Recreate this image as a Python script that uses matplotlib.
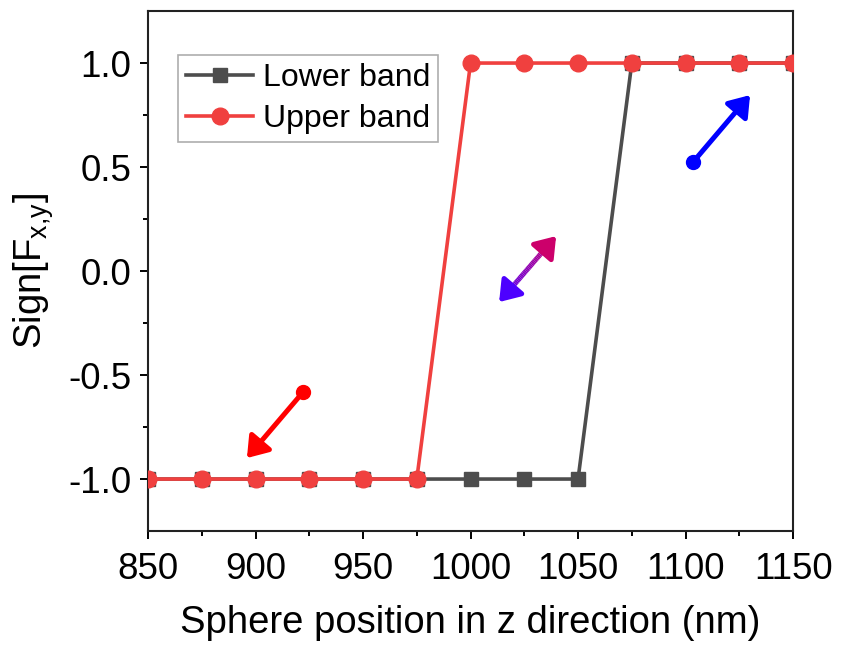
import matplotlib
matplotlib.use('Agg')
import matplotlib.pyplot as plt
import numpy as np
from matplotlib.patches import FancyArrowPatch
from matplotlib.collections import LineCollection

plt.rcParams['font.family'] = ['Liberation Sans', 'DejaVu Sans']
plt.rcParams['mathtext.fontset'] = 'custom'
plt.rcParams['mathtext.rm'] = 'Liberation Sans'
plt.rcParams['mathtext.it'] = 'Liberation Sans'

# data
z_pos = [850, 875, 900, 925, 950, 975, 1000, 1025, 1050, 1075, 1100, 1125, 1150]
lower_band = [-1, -1, -1, -1, -1, -1, -1, -1, -1, 1, 1, 1, 1]
upper_band = [-1, -1, -1, -1, -1, -1, 1, 1, 1, 1, 1, 1, 1]

# arrows (tail, head) in data coords
red_arrow = [(922.1, -0.582), (896.0, -0.899)]
blue_arrow = [(1103.5, 0.524), (1130.0, 0.846)]
purple_arrow = [(1013.3, -0.149), (1039.8, 0.168)]

c_lower = '#4d4d4d'
c_upper = '#f0403f'

fig = plt.figure(figsize=(8.41, 6.5), dpi=100)
ax = fig.add_axes([0.176, 0.183, 0.767, 0.8])

ax.plot(z_pos, lower_band, color=c_lower, lw=2.6, marker='s', ms=10.5,
        label='Lower band', zorder=3)
ax.plot(z_pos, upper_band, color=c_upper, lw=2.6, marker='o', ms=12,
        label='Upper band', zorder=4)

def arrow(p0, p1, color, lw=3.6):
    a = FancyArrowPatch(p0, p1, arrowstyle='-|>,head_length=0.6,head_width=0.42',
                        mutation_scale=20, color=color, lw=lw,
                        shrinkA=0, shrinkB=0, zorder=5)
    ax.add_patch(a)

# red and blue with a dot at the tail
arrow(red_arrow[0], red_arrow[1], '#ff0000')
ax.plot(*red_arrow[0], 'o', color='#ff0000', ms=10, zorder=6)
arrow(blue_arrow[0], blue_arrow[1], '#0000ff')
ax.plot(*blue_arrow[0], 'o', color='#0000ff', ms=10, zorder=6)

# purple double arrow with a colour gradient
c_start = np.array([0.30, 0.0, 1.0])
c_end = np.array([0.80, 0.0, 0.42])
(x0, y0), (x1, y1) = purple_arrow
t = np.linspace(0.12, 0.88, 40)
xs = x0 + (x1 - x0) * t
ys = y0 + (y1 - y0) * t
segs = [[(xs[i], ys[i]), (xs[i + 1], ys[i + 1])] for i in range(len(t) - 1)]
cols = [c_start + (c_end - c_start) * (t[i] + t[i + 1]) / 2 for i in range(len(t) - 1)]
ax.add_collection(LineCollection(segs, colors=cols, linewidths=3.6, zorder=5))
xm, ym = x0 + (x1 - x0) * 0.2, y0 + (y1 - y0) * 0.2
arrow((xm, ym), (x0, y0), tuple(c_start))
xm, ym = x0 + (x1 - x0) * 0.8, y0 + (y1 - y0) * 0.8
arrow((xm, ym), (x1, y1), tuple(c_end))

ax.set_xlim(850, 1150)
ax.set_ylim(-1.25, 1.25)
ax.set_xticks(np.arange(850, 1151, 50))
ax.set_xticks(np.arange(875, 1150, 50), minor=True)
ax.set_yticks([-1.0, -0.5, 0.0, 0.5, 1.0])
ax.set_yticks([-0.75, -0.25, 0.25, 0.75], minor=True)
ax.set_yticklabels(['-1.0', '-0.5', '0.0', '0.5', '1.0'])
ax.tick_params(which='major', direction='out', length=6, width=1.4,
               labelsize=26.5, pad=6, top=False, right=False)
ax.tick_params(axis='x', which='major', pad=9)
ax.tick_params(which='minor', direction='out', length=3.6, width=1.4,
               top=False, right=False)
for s in ax.spines.values():
    s.set_linewidth(1.5)
    s.set_color('#222222')

ax.set_xlabel('Sphere position in z direction (nm)', fontsize=27.5, labelpad=13)
ax.set_ylabel(r'Sign[F$_{\mathrm{x{,}y}}$]', fontsize=27.5, labelpad=9)

leg = ax.legend(loc='upper left', bbox_to_anchor=(0.047, 0.915), fontsize=23,
                frameon=True, fancybox=False, edgecolor='#999999',
                borderpad=0.25, labelspacing=0.33, handlelength=2.1,
                handletextpad=0.3, borderaxespad=0)
leg.get_frame().set_linewidth(1.2)

fig.savefig('out.png', dpi=100)
